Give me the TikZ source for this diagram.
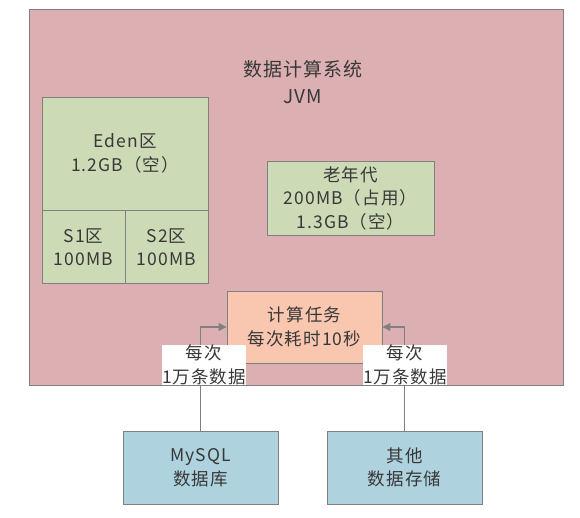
\documentclass[tikz,border=0pt]{standalone}
\usepackage{fontspec}
\newfontfamily\cjk[LetterSpace=6]{Noto Sans CJK SC}
\usetikzlibrary{positioning, arrows.meta}

\definecolor{jvmpink}{RGB}{220,176,178}
\definecolor{genegreen}{RGB}{205,218,182}
\definecolor{taskorange}{RGB}{249,198,175}
\definecolor{storeblue}{RGB}{174,210,222}
\definecolor{edgegray}{RGB}{128,128,128}

\begin{document}
\begin{tikzpicture}
		[x=1pt, y=-1pt,
		every node/.style={font=\cjk\fontsize{17.5}{23.5}\selectfont, text=black!78, align=center},
		area/.style={draw=edgegray, line width=0.9pt, inner sep=0pt},
		zone/.style={area, fill=genegreen},
		store/.style={area, fill=storeblue, minimum width=155pt, minimum height=73pt},
		feed/.style={draw=edgegray, line width=1.2pt, -{Triangle[length=8pt, width=8pt]}},
		note/.style={fill=white, inner sep=0.5pt}]
		\useasboundingbox (0,0) rectangle (580,517);

		\node[area, fill=jvmpink, minimum width=534pt, minimum height=376pt] (jvm) at (296,197) {};
		\node[font=\cjk\fontsize{19}{27}\selectfont] (title) at (303,82) {数据计算系统\\JVM};

		\node[zone, minimum width=166pt, minimum height=113pt] (eden) at (125,153.5) {Eden区\\1.2GB（空）};
		\node[zone, anchor=north west, minimum width=83pt, minimum height=73pt] (s1) at (eden.south west) {S1区\\100MB};
		\node[zone, anchor=north east, minimum width=83pt, minimum height=73pt] (s2) at (eden.south east) {S2区\\100MB};
		\node[zone, minimum width=167pt, minimum height=74pt] (old) at (350.5,198) {老年代\\200MB（占用）\\1.3GB（空）};

		\node[area, fill=taskorange, minimum width=155pt, minimum height=72pt] (task) at (304.5,327) {计算任务\\每次耗时10秒};

		\node[store] (mysql) at (200.5,467.5) {MySQL\\数据库};
		\node[store] (other) at (404.5,467.5) {其他\\数据存储};

		\draw[feed] (mysql) |- (task);
		\draw[feed] (other) |- (task);
		\node[note] (noteL) at (204,365) {每次\\1万条数据};
		\node[note] (noteR) at (405,365) {每次\\1万条数据};
	\end{tikzpicture}
\end{document}
